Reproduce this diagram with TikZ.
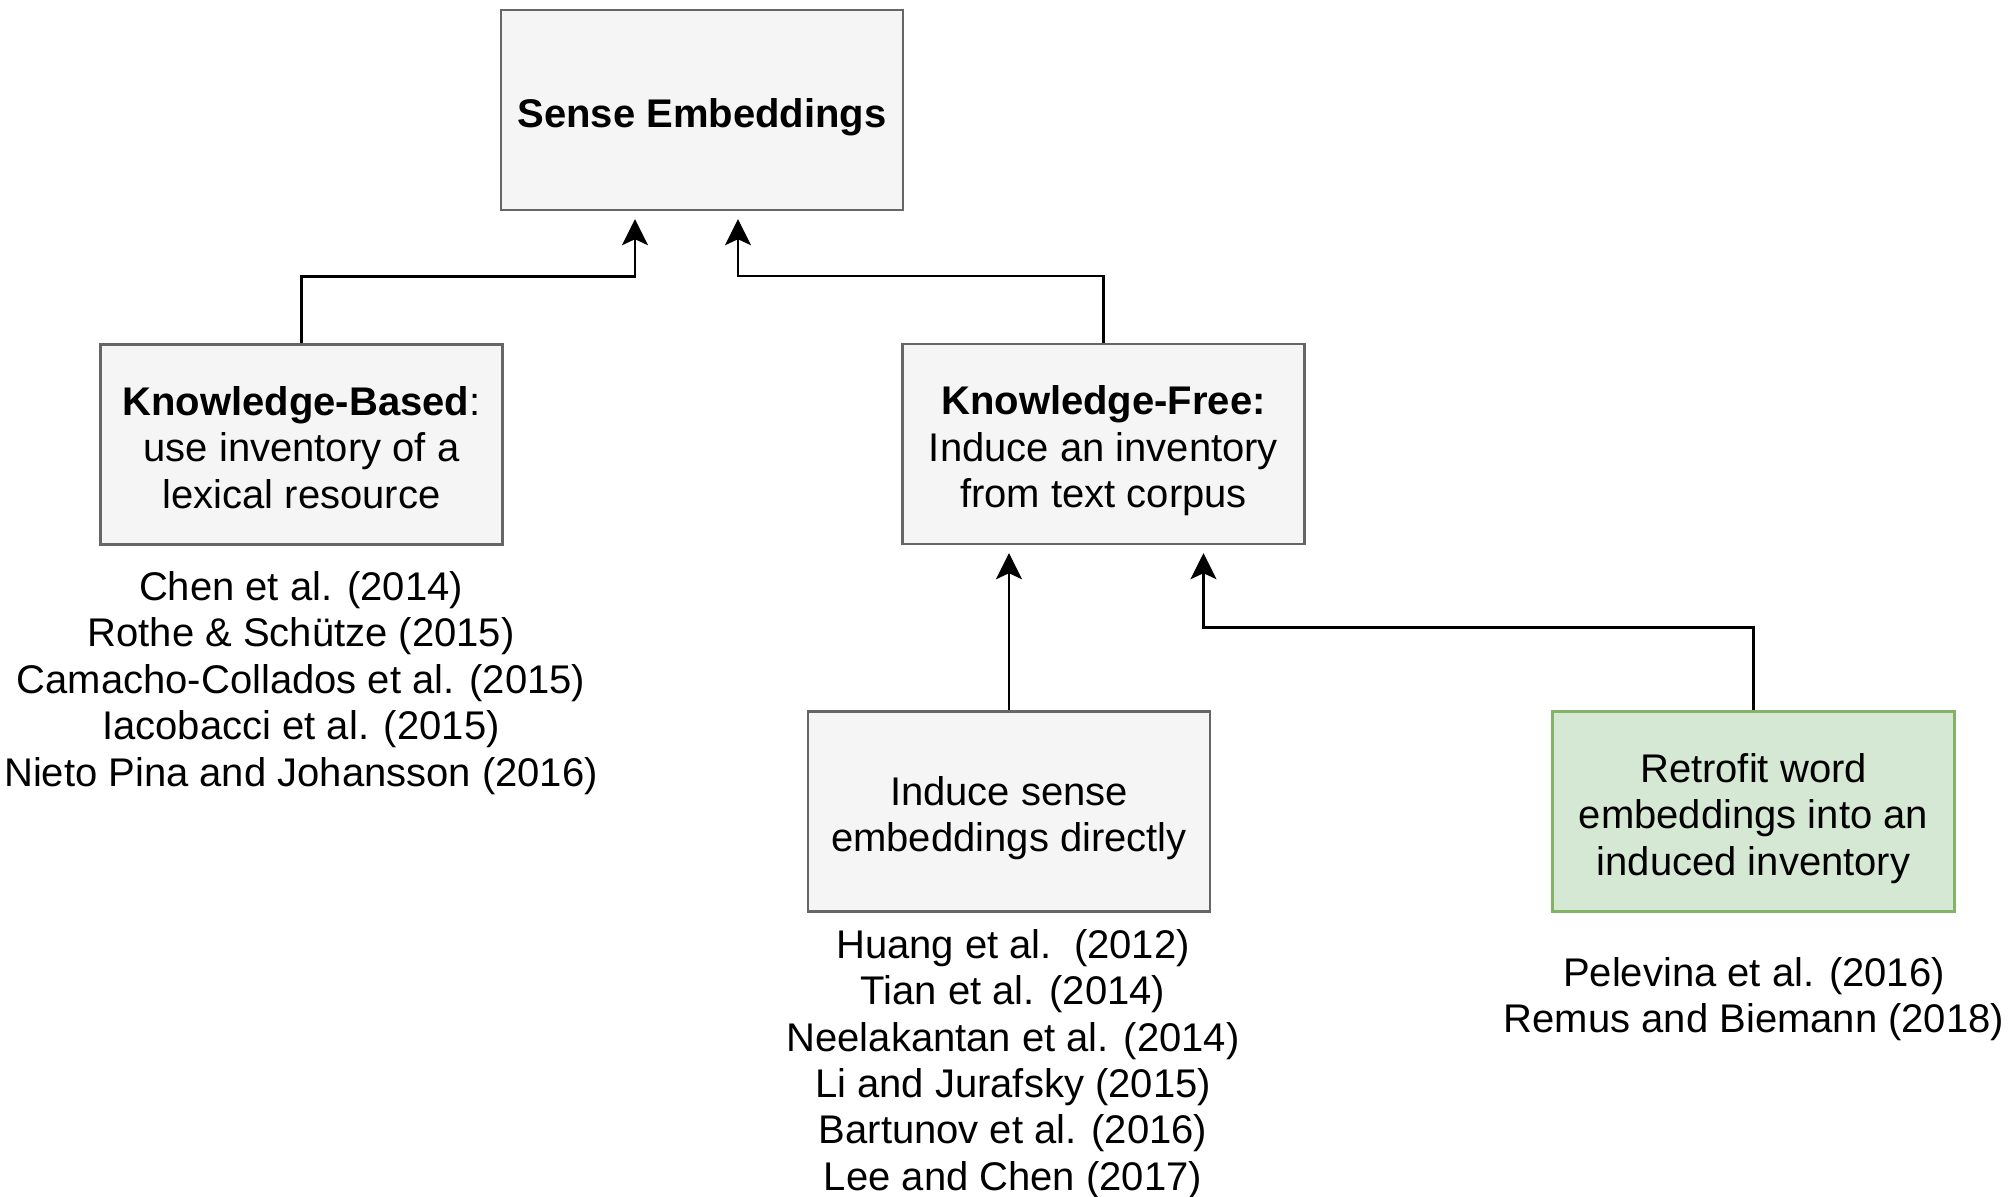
\documentclass[tikz,border=0pt]{standalone}
\usepackage{fontspec}
\setmainfont{Liberation Sans}
\usepackage{xcolor}
\usepackage{tikz}
\usetikzlibrary{arrows.meta,calc}
\definecolor{boxgray}{HTML}{F5F5F5}
\definecolor{boxline}{HTML}{666666}
\definecolor{greenfill}{HTML}{D5E8D4}
\definecolor{greenline}{HTML}{82B366}
\newcommand{\boxlines}[1]{\raisebox{-4pt}[\height][\depth]{\begin{tabular}{@{}c@{}}#1\end{tabular}}}
\tikzset{
  sensebox/.style={draw=boxline, fill=boxgray, line width=1.2pt, minimum width=201pt, minimum height=100pt, inner sep=0pt},
  retrobox/.style={sensebox, draw=greenline, fill=greenfill},
  reflist/.style={align=center, inner sep=0pt},
  linkarrow/.style={-{Stealth[length=13pt,width=13pt,inset=3pt]}, line width=1.3pt, shorten >=4pt}
}

\begin{document}
\begin{tikzpicture}[x=0.5pt, y=-0.5pt, font=\fontsize{20}{23.2}\selectfont]
\useasboundingbox (0,0) rectangle (2010,1196);
\node[sensebox] (se) at (702,110) {\boxlines{\textbf{Sense Embeddings}}};
\node[sensebox] (kb) at (301.5,444.5) {\boxlines{\textbf{Knowledge-Based}:\\use inventory of a\\lexical resource}};
\node[sensebox] (kf) at (1103.5,444) {\boxlines{\textbf{Knowledge-Free:}\\Induce an inventory\\from text corpus}};
\node[sensebox] (ind) at (1009,811.5) {\boxlines{Induce sense\\embeddings directly}};
\node[retrobox] (ret) at (1753.5,811.5) {\boxlines{Retrofit word\\embeddings into an\\induced inventory}};
\node[reflist] (kbrefs) at (301,683) {Chen et al. (2014)\\Rothe \& Schütze (2015)\\Camacho-Collados et al. (2015)\\Iacobacci et al. (2015)\\Nieto Pina and Johansson (2016)};
\node[reflist] (indrefs) at (1013,1064) {Huang et al.\ \ (2012)\\Tian et al. (2014)\\Neelakantan et al. (2014)\\Li and Jurafsky (2015)\\Bartunov et al. (2016)\\Lee and Chen (2017)};
\node[reflist] (retrefs) at (1754,999) {Pelevina et al. (2016)\\Remus and Biemann (2018)};
\draw[linkarrow] (kb.north) -- ++(0,-67) -| ($(se.south)+(-67,0)$);
\draw[linkarrow] (kf.north) -- ++(0,-67) -| ($(se.south)+(36,0)$);
\draw[linkarrow] (ind.north) -- (ind.north |- kf.south);
\draw[linkarrow] (ret.north) -- ++(0,-83) -| ($(kf.south)+(100,0)$);
\end{tikzpicture}
\end{document}
